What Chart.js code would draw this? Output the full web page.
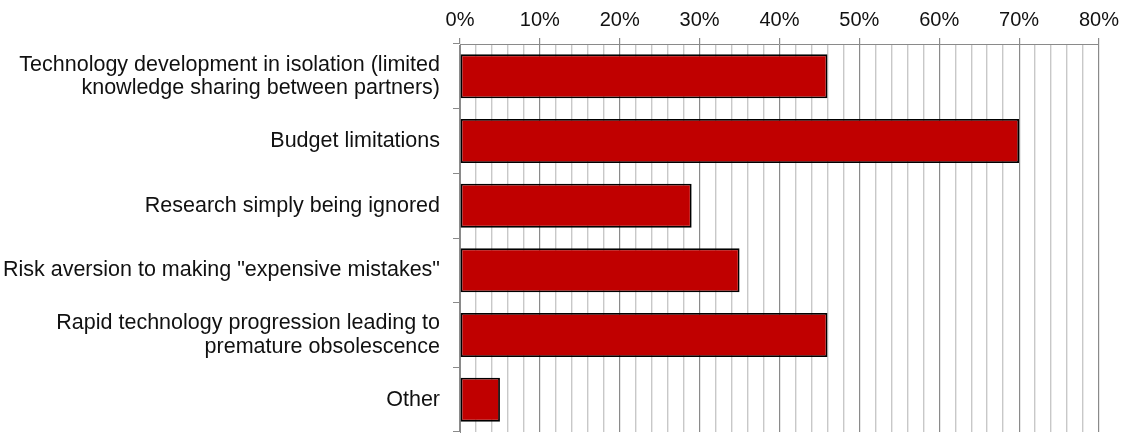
<!DOCTYPE html>
<html>
<head>
<meta charset="utf-8">
<script src="https://cdn.jsdelivr.net/npm/chart.js@4"></script>
<style>
  html, body { margin: 0; padding: 0; background: #fff; }
  #wrap { width: 1132px; height: 434px; }
</style>
</head>
<body>
<div id="wrap"><canvas id="chart" width="1132" height="434"></canvas></div>
<script>
// Survey: barriers to technology adoption (share of respondents, %)
const categories = [
  ["Technology development in isolation (limited", "knowledge sharing between partners)"],
  "Budget limitations",
  "Research simply being ignored",
  "Risk aversion to making \"expensive mistakes\"",
  ["Rapid technology progression leading to", "premature obsolescence"],
  "Other"
];
const shares = [46, 70, 29, 35, 46, 5];
const tickStep = 2;        // minor grid every 2 %
const labelEvery = 10;     // labelled ticks every 10 %
const axisMax = 80;

const FONT = "'Liberation Sans', Arial, sans-serif";
const isMajor = v => v % labelEvery === 0;

new Chart(document.getElementById('chart'), {
  type: 'bar',
  data: {
    labels: categories,
    datasets: [{
      data: shares,
      backgroundColor: '#c00000',
      borderColor: '#000000',
      borderWidth: 1.8,
      borderSkipped: false,
      barPercentage: 0.68,
      categoryPercentage: 1.0
    }]
  },
  options: {
    indexAxis: 'y',
    responsive: false,
    animation: false,
    layout: { padding: { left: 0, right: 33, top: 0, bottom: 2 } },
    plugins: { legend: { display: false }, tooltip: { enabled: false } },
    scales: {
      x: {
        position: 'top',
        min: 0,
        max: axisMax,
        afterFit: s => { s.height = 44; s.paddingLeft = 0; s.paddingRight = 0; },
        border: { display: true, color: '#8a8a8a', width: 1 },
        grid: {
          drawTicks: true,
          tickLength: 6,
          color: ctx => isMajor(ctx.tick.value) ? '#8a8a8a' : '#c8c8c8',
          tickColor: ctx => isMajor(ctx.tick.value) ? '#8a8a8a' : 'rgba(0,0,0,0)',
          lineWidth: ctx => isMajor(ctx.tick.value) ? 1.2 : 1.4
        },
        ticks: {
          stepSize: tickStep,
          autoSkip: false,
          maxRotation: 0,
          padding: 6,
          color: '#111',
          font: { family: FONT, size: 20 },
          callback: v => isMajor(v) ? v + '%' : ''
        }
      },
      y: {
        afterFit: s => { s.width = 460; s.paddingTop = 0; s.paddingBottom = 0; },
        border: { display: true, color: '#8a8a8a', width: 1 },
        grid: {
          offset: true,
          drawOnChartArea: false,
          tickLength: 7,
          color: '#8a8a8a'
        },
        ticks: {
          padding: 13,
          color: '#111',
          font: { family: FONT, size: 21.5, lineHeight: 1.08 }
        }
      }
    }
  }
});
</script>
</body>
</html>
